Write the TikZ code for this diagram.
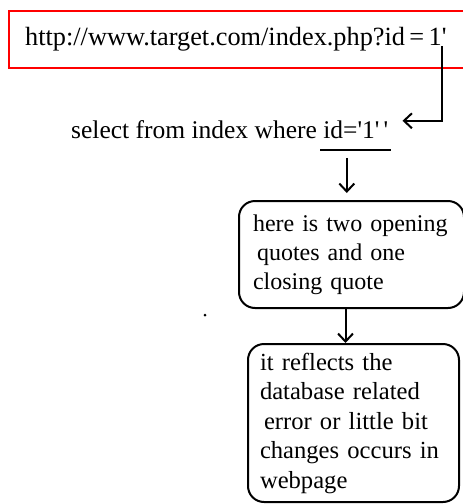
\documentclass[tikz,border=0pt]{standalone}
\usepackage{fontspec}
\setmainfont{Liberation Serif}
\usetikzlibrary{arrows.meta,positioning}

\tikzset{
  txt/.style={font=\fontsize{24}{29}\selectfont},
  bubble/.style={txt,draw,line width=2pt,rounded corners=16pt,align=left,anchor=north west,inner xsep=14pt},
  arr/.style={-{Straight Barb[length=8pt,width=15pt]},line width=2pt}
}

\begin{document}
\begin{tikzpicture}[x=1pt,y=-1pt]
  \useasboundingbox (0,0) rectangle (463,504);
  \clip (0,0) rectangle (463,504);
  \node[font=\fontsize{26.3}{30}\selectfont,draw=red,line width=2.4pt,anchor=west,minimum height=57pt,text width=430pt,inner xsep=16pt,align=left] (url) at (8,39.5) {http://www.target.com/index.php?id\,=\,1\textquotesingle};
  \coordinate (tick) at (442,46);
  \node[font=\fontsize{25.5}{29}\selectfont,anchor=base west,inner sep=0pt] (sel) at (71,138) {select from index where};
  \node[font=\fontsize{25.5}{29}\selectfont,anchor=base west,inner xsep=3pt,inner ysep=11.5pt] (idq) at ([xshift=3pt]sel.base east) {id=\textquotesingle1\textquotesingle\,\textquotesingle};
  \node[bubble,minimum width=225pt,minimum height=107pt,text width=197pt] (here) at (238,200)
    {here is two opening\\\hspace{4pt}quotes and one\\closing quote};
  \node[bubble,font=\fontsize{24.6}{29.5}\selectfont,minimum width=211pt,minimum height=158pt,text width=187pt,inner xsep=12pt] (err) at (247,343)
    {it reflects the\\database related\\\hspace{4pt}error or little bit\\changes occurs in\\webpage};
  % stray dot
  \fill (205,315) circle (1.5pt);
  \draw[line width=2pt] (idq.south west) -- (idq.south east);
  \draw[arr] (tick) |- ([xshift=11pt,yshift=8.5pt]idq.east);
  \draw[arr,shorten >=7pt] ([xshift=-9pt,yshift=-8pt]idq.south) -- ([xshift=-9pt]idq.south |- here.north);
  \draw[arr] ([xshift=-6pt]here.south) -- ([xshift=-6pt]here.south |- err.north);
\end{tikzpicture}
\end{document}
